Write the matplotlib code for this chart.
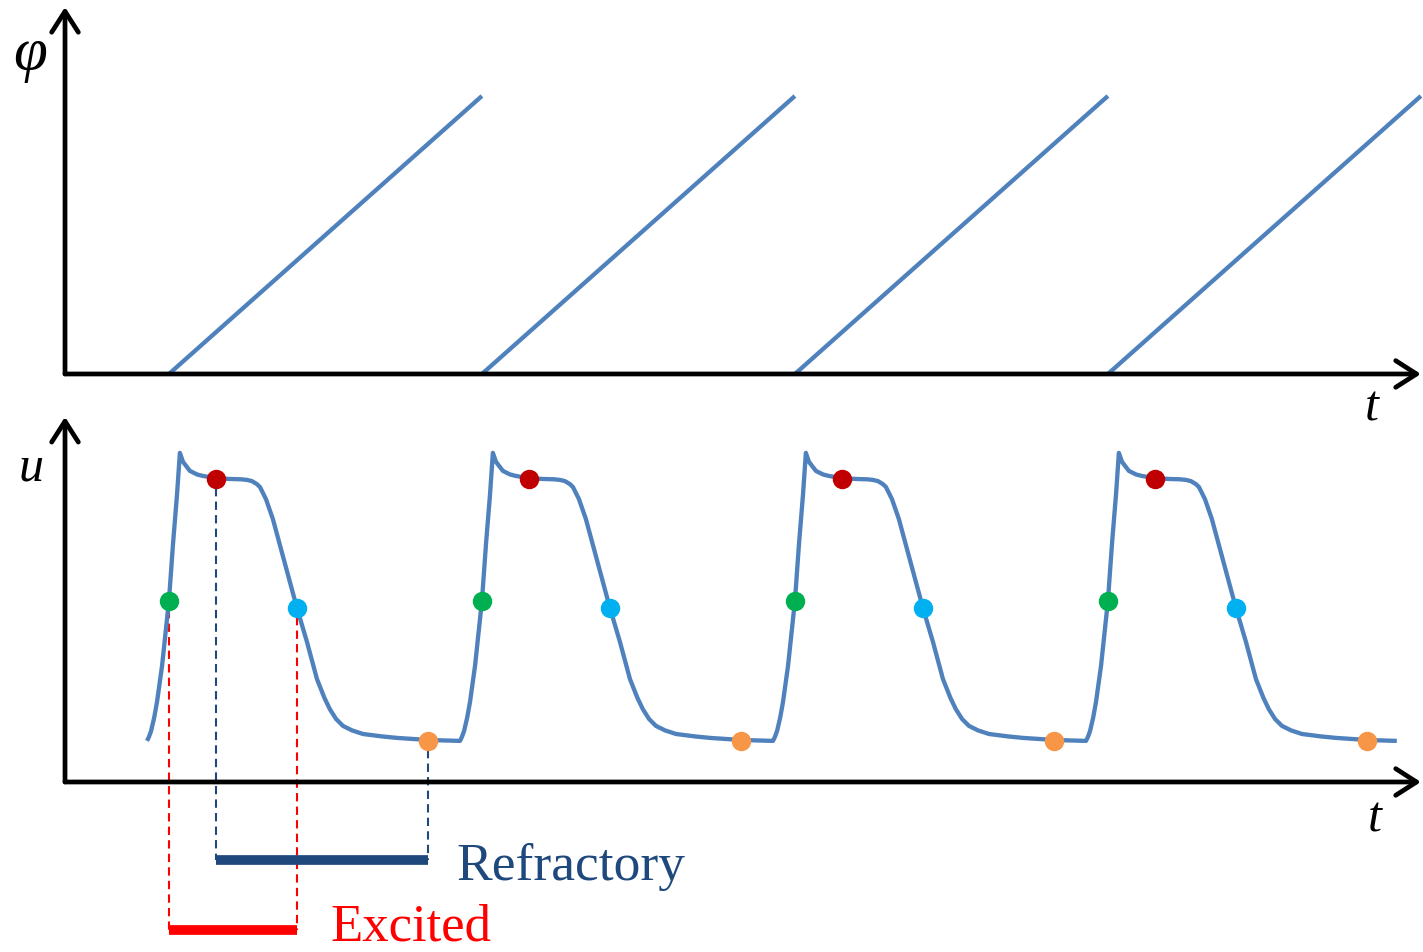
import numpy as np
import matplotlib
matplotlib.use('Agg')
import matplotlib.pyplot as plt

# time in units of one oscillation period
onsets = [0.332, 1.332, 2.332, 3.332]
t_end = 4.332

# one action-potential cycle: offsets from onset (green point) and u values
cycle_dt = [-0.070, -0.064, -0.057, -0.047, -0.038, -0.022, 0.0, 0.013, 0.026,
            0.035, 0.045, 0.067, 0.090, 0.109, 0.150, 0.195, 0.230, 0.249,
            0.265, 0.281, 0.291, 0.310, 0.332, 0.364, 0.409, 0.441, 0.473,
            0.497, 0.514, 0.534, 0.556, 0.585, 0.620, 0.680, 0.728, 0.827,
            0.923]
cycle_u = [0.137, 0.150, 0.170, 0.215, 0.267, 0.387, 0.603, 0.793, 0.960,
           1.097, 1.067, 1.037, 1.025, 1.020, 1.013, 1.010, 1.009, 1.007,
           1.003, 0.993, 0.983, 0.943, 0.877, 0.753, 0.580, 0.467, 0.343,
           0.280, 0.243, 0.210, 0.187, 0.172, 0.160, 0.152, 0.147, 0.140,
           0.137]

# marker positions within a cycle (offset, u)
pt_green = (0.0, 0.603)
pt_red = (0.150, 1.010)
pt_cyan = (0.409, 0.580)
pt_orange = (0.827, 0.137)

refractory_u = -0.26
excited_u = -0.493

LINE = '#4F81BD'
DARKBLUE = '#1F497D'
RED = '#FF0000'
DOTS = {'green': '#00B050', 'red': '#C00000', 'cyan': '#00B0F0', 'orange': '#F79646'}

SERIF = 'Liberation Serif'
XLIM = (-0.2077, 4.3387)

fig = plt.figure(figsize=(14.23, 9.53), dpi=100)
ax1 = fig.add_axes([0, 0.5803, 1, 0.4197])
ax2 = fig.add_axes([0, 0, 1, 0.5803])
for ax in (ax1, ax2):
    ax.set_xlim(*XLIM)
    ax.axis('off')
ax1.set_ylim(-0.0899, 1.3489)
ax2.set_ylim(-0.5667, 1.2767)

arrow_kw = dict(arrowstyle='->,head_length=0.75,head_width=0.48',
                lw=3.4, color='black', mutation_scale=20,
                shrinkA=0, shrinkB=0, capstyle='round', joinstyle='round')


def draw_axes(ax, ytop):
    ax.annotate('', xy=(0, ytop), xytext=(0, 0), arrowprops=arrow_kw,
                annotation_clip=False)
    ax.annotate('', xy=(t_end, 0), xytext=(0, 0), arrowprops=arrow_kw,
                annotation_clip=False)


# phase panel
for t0 in onsets:
    ax1.plot([t0, t0 + 1], [0, 1], color=LINE, lw=3.1, solid_capstyle='butt')
draw_axes(ax1, 1.32)
ax1.text(-0.112, 1.15, 'φ', fontsize=44, family=SERIF, style='italic',
         ha='center', va='center')
ax1.text(4.175, -0.12, 't', fontsize=36, family=SERIF, style='italic',
         ha='center', va='center', clip_on=False)

# membrane potential panel
tt, uu = [], []
for t0 in onsets:
    tt += [t0 + d for d in cycle_dt]
    uu += cycle_u
ax2.plot(tt, uu, color=LINE, lw=3.1, solid_joinstyle='round',
         solid_capstyle='butt', zorder=2)

for t0 in onsets:
    for (dt, u), c in zip([pt_green, pt_red, pt_cyan, pt_orange],
                          ['green', 'red', 'cyan', 'orange']):
        ax2.plot(t0 + dt, u, 'o', ms=14, color=DOTS[c], mec='none', zorder=3)

draw_axes(ax2, 1.217)
ax2.text(-0.11, 1.05, 'u', fontsize=36, family=SERIF, style='italic',
         ha='center', va='center')
ax2.text(4.185, -0.12, 't', fontsize=36, family=SERIF, style='italic',
         ha='center', va='center', clip_on=False)

# excited / refractory intervals of the first cycle
t0 = onsets[0]
for dt, u in (pt_green, pt_cyan):
    ax2.plot([t0 + dt, t0 + dt], [u - 0.03, excited_u], color=RED, lw=1.5,
             ls=(0, (4, 2.5)), zorder=1)
for dt, u in (pt_red, pt_orange):
    ax2.plot([t0 + dt, t0 + dt], [u - 0.03, refractory_u], color=DARKBLUE,
             lw=1.5, ls=(0, (4, 2.5)), zorder=1)

ax2.plot([t0 + pt_red[0], t0 + pt_orange[0]], [refractory_u, refractory_u],
         color=DARKBLUE, lw=7, solid_capstyle='butt')
ax2.plot([t0 + pt_green[0], t0 + pt_cyan[0]], [excited_u, excited_u],
         color=RED, lw=7, solid_capstyle='butt')

ax2.text(1.252, -0.323, 'Refractory', fontsize=38.5, family=SERIF,
         color=DARKBLUE, ha='left', va='baseline')
ax2.text(0.847, -0.525, 'Excited', fontsize=38, family=SERIF,
         color=RED, ha='left', va='baseline')

fig.savefig('out.png', dpi=100)
